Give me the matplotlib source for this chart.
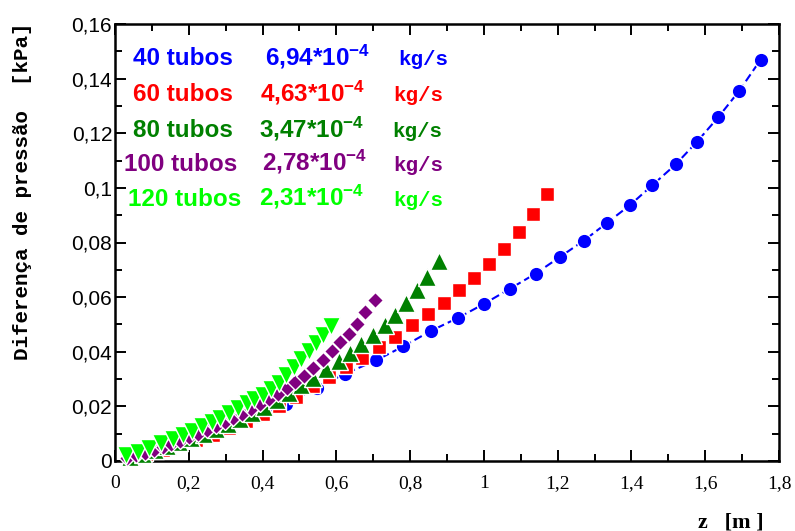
import numpy as np
import matplotlib
matplotlib.use('Agg')
import matplotlib.pyplot as plt
from matplotlib.ticker import MultipleLocator, FuncFormatter

# Data: z [m] vs pressure difference [kPa]
z_40 = [0.065, 0.145, 0.225, 0.305, 0.385, 0.464, 0.547, 0.623, 0.707, 0.782,
        0.856, 0.931, 1.000, 1.071, 1.140, 1.205, 1.271, 1.333, 1.397, 1.456,
        1.520, 1.577, 1.635, 1.692, 1.750]
dp_40 = [0.0015, 0.0045, 0.0080, 0.0120, 0.0163, 0.0210, 0.0268, 0.0319, 0.0368, 0.0420,
         0.0476, 0.0525, 0.0575, 0.0631, 0.0686, 0.0746, 0.0807, 0.0871, 0.0938, 0.1009,
         0.1086, 0.1168, 0.1258, 0.1355, 0.1469]

z_60 = [0.040, 0.085, 0.130, 0.175, 0.220, 0.265, 0.310, 0.355, 0.400, 0.445,
        0.490, 0.536, 0.581, 0.626, 0.670, 0.715, 0.760, 0.806, 0.849, 0.891,
        0.932, 0.973, 1.013, 1.055, 1.095, 1.132, 1.170]
dp_60 = [0.0010, 0.0024, 0.0040, 0.0057, 0.0076, 0.0097, 0.0122, 0.0145, 0.0172, 0.0200,
         0.0235, 0.0273, 0.0309, 0.0344, 0.0377, 0.0419, 0.0454, 0.0498, 0.0538, 0.0579,
         0.0625, 0.0670, 0.0722, 0.0777, 0.0838, 0.0903, 0.0976]

z_80 = [0.042, 0.075, 0.108, 0.141, 0.174, 0.207, 0.240, 0.273, 0.306, 0.339,
        0.372, 0.405, 0.438, 0.472, 0.505, 0.536, 0.572, 0.606, 0.637, 0.667,
        0.699, 0.731, 0.760, 0.789, 0.818, 0.847, 0.879]
dp_80 = [0.0014, 0.0027, 0.0040, 0.0054, 0.0068, 0.0083, 0.0099, 0.0116, 0.0134, 0.0153,
         0.0174, 0.0196, 0.0222, 0.0250, 0.0279, 0.0303, 0.0336, 0.0367, 0.0397, 0.0428,
         0.0462, 0.0499, 0.0536, 0.0579, 0.0625, 0.0674, 0.0731]

z_100 = [0.033, 0.057, 0.081, 0.105, 0.129, 0.153, 0.177, 0.201, 0.225, 0.249,
         0.273, 0.297, 0.321, 0.345, 0.369, 0.393, 0.417, 0.441, 0.465, 0.489,
         0.513, 0.538, 0.563, 0.587, 0.609, 0.633, 0.657, 0.679, 0.704]
dp_100 = [0.0012, 0.0021, 0.0031, 0.0041, 0.0052, 0.0063, 0.0075, 0.0087, 0.0100, 0.0113,
          0.0127, 0.0141, 0.0156, 0.0172, 0.0189, 0.0207, 0.0226, 0.0246, 0.0267, 0.0289,
          0.0312, 0.0340, 0.0371, 0.0404, 0.0434, 0.0466, 0.0503, 0.0544, 0.0588]

z_120 = [0.031, 0.063, 0.092, 0.125, 0.157, 0.184, 0.210, 0.235, 0.262, 0.285,
         0.309, 0.333, 0.357, 0.378, 0.401, 0.423, 0.444, 0.464, 0.484, 0.505,
         0.525, 0.545, 0.565, 0.585]
dp_120 = [0.0022, 0.0034, 0.0049, 0.0065, 0.0081, 0.0095, 0.0110, 0.0128, 0.0144, 0.0159,
          0.0177, 0.0193, 0.0212, 0.0226, 0.0242, 0.0262, 0.0285, 0.0314, 0.0343, 0.0373,
          0.0401, 0.0432, 0.0462, 0.0495]

tubos = ['40 tubos', '60 tubos', '80 tubos', '100 tubos', '120 tubos']
vazao = ['6,94', '4,63', '3,47', '2,78', '2,31']
cores = ['#0000ff', '#ff0000', '#008000', '#800080', '#00ff00']
marcadores = ['o', 's', '^', 'D', 'v']
tamanhos = [10.5, 10.5, 12.5, 8.3, 12.5]

x_ticks = [0, 0.2, 0.4, 0.6, 0.8, 1, 1.2, 1.4, 1.6, 1.8]
x_labels = ['0', '0,2', '0,4', '0,6', '0,8', '1', '1,2', '1,4', '1,6', '1,8']

plt.rcParams['mathtext.fontset'] = 'custom'
plt.rcParams['mathtext.rm'] = 'Liberation Sans:bold'
plt.rcParams['mathtext.bf'] = 'Liberation Sans:bold'
plt.rcParams['mathtext.it'] = 'Liberation Sans:bold'

fig = plt.figure(figsize=(7.95, 5.31), dpi=100)
ax = fig.add_axes([115 / 795, 1 - 461 / 531, 664 / 795, 437 / 531])

series = [(z_40, dp_40), (z_60, dp_60), (z_80, dp_80), (z_100, dp_100), (z_120, dp_120)]
for i, (z, dp) in enumerate(series):
    if i == 0:
        # only the 40 tubos curve has the dashed line
        ax.plot(z, dp, color=cores[i], lw=1.5, dashes=(4, 2), zorder=2)
    ax.plot(z, dp, ls='none', marker=marcadores[i], ms=tamanhos[i], color=cores[i],
            mec='white', mew=1.0, zorder=3 + i, clip_on=False)

ax.set_xlim(0, 1.8)
ax.set_ylim(0, 0.16)
ax.set_xticks(x_ticks)
ax.set_xticklabels(x_labels, fontfamily='Liberation Serif', fontsize=14)
ax.xaxis.set_minor_locator(MultipleLocator(0.1))
ax.yaxis.set_major_locator(MultipleLocator(0.02))
ax.yaxis.set_minor_locator(MultipleLocator(0.01))
ax.yaxis.set_major_formatter(FuncFormatter(lambda v, p: ('%g' % round(v, 3)).replace('.', ',')))
for lab in ax.get_yticklabels():
    lab.set_fontfamily('Liberation Sans')
    lab.set_fontsize(15)
ax.tick_params(which='both', direction='in', top=True, right=True, width=1.4, color='black')
ax.tick_params(which='major', length=8)
ax.tick_params(which='minor', length=5)
ax.tick_params(axis='x', which='major', pad=10)
ax.tick_params(axis='y', which='major', pad=2)
for s in ax.spines.values():
    s.set_linewidth(1.8)

# legend-like text block
row_y = [0.906, 0.824, 0.741, 0.664, 0.584]
tub_x = [0.027, 0.027, 0.027, 0.013, 0.019]
vaz_x = [0.226, 0.218, 0.217, 0.221, 0.217]
kg_x = [0.426, 0.419, 0.417, 0.419, 0.419]
for i in range(5):
    ax.text(tub_x[i], row_y[i], tubos[i], transform=ax.transAxes, color=cores[i],
            fontfamily='Liberation Sans', fontweight='bold', fontsize=17.5, va='baseline')
    ax.text(vaz_x[i], row_y[i], vazao[i] + '*10$^{-4}$', transform=ax.transAxes, color=cores[i],
            fontfamily='Liberation Sans', fontweight='bold', fontsize=17.5, va='baseline')
    ax.text(kg_x[i], row_y[i], 'kg/s', transform=ax.transAxes, color=cores[i],
            fontfamily='Liberation Mono', fontweight='bold', fontsize=15, va='baseline')

fig.text(23 / 795, 1 - 191 / 531, 'Diferença de pressão  [kPa]', rotation=90,
         fontfamily='Liberation Mono', fontweight='bold', fontsize=15, ha='center', va='center')
fig.text(698 / 795, 1 - 512 / 531, 'z   [m ]', fontfamily='Liberation Serif',
         fontweight='bold', fontsize=16, ha='left', va='top')

fig.savefig('out.png', dpi=100)
